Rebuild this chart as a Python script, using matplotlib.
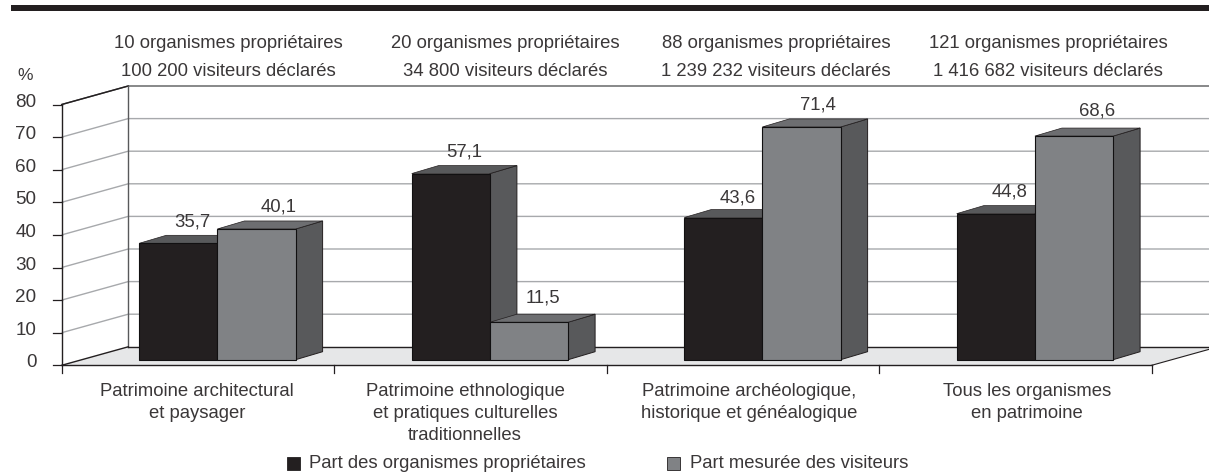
import matplotlib
matplotlib.use("Agg")
import matplotlib.pyplot as plt
from matplotlib.patches import Polygon, Rectangle

categories = ["Patrimoine architectural\net paysager",
              "Patrimoine ethnologique\net pratiques culturelles\ntraditionnelles",
              "Patrimoine archéologique,\nhistorique et généalogique",
              "Tous les organismes\nen patrimoine"]
headers = ["10 organismes propriétaires\n100 200 visiteurs déclarés",
           "20 organismes propriétaires\n34 800 visiteurs déclarés",
           "88 organismes propriétaires\n1 239 232 visiteurs déclarés",
           "121 organismes propriétaires\n1 416 682 visiteurs déclarés"]
part_organismes = [35.7, 57.1, 43.6, 44.8]
part_visiteurs = [40.1, 11.5, 71.4, 68.6]
series_names = ["Part des organismes propriétaires", "Part mesurée des visiteurs"]
y_ticks = [0, 10, 20, 30, 40, 50, 60, 70, 80]

plt.rcParams['font.family'] = ['Liberation Sans', 'DejaVu Sans']
W, H = 1209, 474
X0, GW = 61.7, 272.5      # pixel x of category origin, pixel width of a category
Y0, YU = 365.3, 3.26      # pixel y of value 0, pixels per value unit
TXT = "#3a3738"; FS = 13.3

fig = plt.figure(figsize=(W / 100, H / 100), dpi=100)
ax = fig.add_axes([0, 0, 1, 1])
ax.set_xlim(-X0 / GW, (W - X0) / GW)
ax.set_ylim((Y0 - H) / YU, Y0 / YU)
ax.axis("off")
px = lambda p: p / GW      # pixel length -> x units
py = lambda p: p / YU      # pixel length -> y units
xp = lambda p: (p - X0) / GW  # pixel pos -> x data
yp = lambda p: (Y0 - p) / YU  # pixel pos -> y data

wall_dx, wall_dy = px(66.5), py(18.5)
bar_dx, bar_dy = px(27), py(8)
base = py(5.6)
bar_off, bar_w = px(77.5), px(78.2)
n = len(categories)
xmax = xp(W)

# top rule
ax.add_patch(Rectangle((xp(11), yp(11)), xp(W + 5) - xp(11), py(6), fc="#231f20", ec="none"))

# floor
floor_slope = wall_dy / wall_dx
ax.add_patch(Polygon([(0, 0), (wall_dx, wall_dy), (xmax + 1, wall_dy), (xmax + 1, (xmax + 1 - n) * floor_slope), (n, 0)],
                     fc="#e6e7e8", ec="none", zorder=1))

# grid and walls
for v in y_ticks[1:]:
    top = v == y_ticks[-1]
    col = "#58595b" if top else "#a7a9ac"
    ax.plot([0, wall_dx, xmax + 1], [v, v + wall_dy, v + wall_dy], color=col,
            lw=1.0, zorder=2, solid_capstyle="butt")
ax.plot([0, wall_dx], [y_ticks[-1], y_ticks[-1] + wall_dy], color="#231f20", lw=1.0, zorder=2.1)
ax.plot([0, 0], [0, y_ticks[-1]], color="#231f20", lw=1.0, zorder=3)
ax.plot([wall_dx, wall_dx], [wall_dy, y_ticks[-1] + wall_dy], color="#58595b", lw=1.0, zorder=3)
ax.plot([0, wall_dx], [0, wall_dy], color="#231f20", lw=1.0, zorder=3)
ax.plot([wall_dx, xmax + 1], [wall_dy, wall_dy], color="#231f20", lw=1.0, zorder=3)
ax.plot([0, n], [0, 0], color="#231f20", lw=1.0, zorder=3)
ax.plot([n, xmax + 1], [0, (xmax + 1 - n) * floor_slope], color="#231f20", lw=0.8, zorder=3)

# y ticks
for v in y_ticks:
    ax.plot([-px(9), 0], [v, v], color="#231f20", lw=0.9, zorder=3)
    ax.text(xp(36.5), v + py(2.5), str(v), ha="right", va="center", fontsize=FS + 0.3, color=TXT)
ax.text(xp(25.5), yp(75), "%", ha="center", va="center", fontsize=FS - 0.7, color=TXT)

# x ticks
for i in range(n + 1):
    ax.plot([i, i], [0, -py(8)], color="#231f20", lw=0.9, zorder=3)

# bars
def bar(x, v, face, top, side, z):
    b = base
    ax.add_patch(Polygon([(x + bar_w, b), (x + bar_w + bar_dx, b + bar_dy),
                          (x + bar_w + bar_dx, v + b + bar_dy), (x + bar_w, v + b)],
                         fc=side, ec="#231f20", lw=0.7, zorder=z))
    ax.add_patch(Polygon([(x, v + b), (x + bar_dx, v + b + bar_dy),
                          (x + bar_w + bar_dx, v + b + bar_dy), (x + bar_w, v + b)],
                         fc=top, ec="#231f20", lw=0.5, zorder=z))
    ax.add_patch(Rectangle((x, b), bar_w, v, fc=face, ec="#111011", lw=0.8, zorder=z + 0.1))

# per-label pixel nudges of the value labels
org_nudge = [(0, 21), (0, 21.5), (1, 19.5), (0, 21.5)]
vis_nudge = [(9, 22), (0, 24), (3, 22), (10, 25)]

for i in range(n):
    x1 = i + bar_off
    x2 = x1 + bar_w
    bar(x1, part_organismes[i], "#231f20", "#58595b", "#58595b", 5 + i)
    bar(x2, part_visiteurs[i], "#808285", "#6d6e71", "#58595b", 5.5 + i)
    for x, v, (dx, dy) in ((x1, part_organismes[i], org_nudge[i]), (x2, part_visiteurs[i], vis_nudge[i])):
        ax.annotate(f"{v:.1f}".replace(".", ","), (x + bar_w / 2 + bar_dx / 2, v + base),
                    xytext=(dx * 0.72, dy * 0.72), textcoords="offset points",
                    ha="center", va="center", fontsize=FS, color=TXT, zorder=20)

# headers and category labels
header_x = [228, 505, 776, 1048]
label_x = [197, 465, 749, 1027]
for i in range(n):
    ax.text(xp(header_x[i]), yp(57.5), headers[i], ha="center", va="center", fontsize=FS,
            linespacing=1.8, color=TXT)
    ax.text(xp(label_x[i]), yp(383), categories[i], ha="center", va="top", fontsize=FS,
            linespacing=1.38, color=TXT, multialignment="center")

# legend
for sx, tx, name, c in ((287, 309, series_names[0], "#231f20"), (667, 690, series_names[1], "#808285")):
    ax.add_patch(Rectangle((xp(sx), yp(470)), px(13), py(13), fc=c, ec="#231f20", lw=0.6))
    ax.text(xp(tx), yp(464), name, ha="left", va="center", fontsize=FS, color=TXT)

fig.savefig("out.png", dpi=100)
